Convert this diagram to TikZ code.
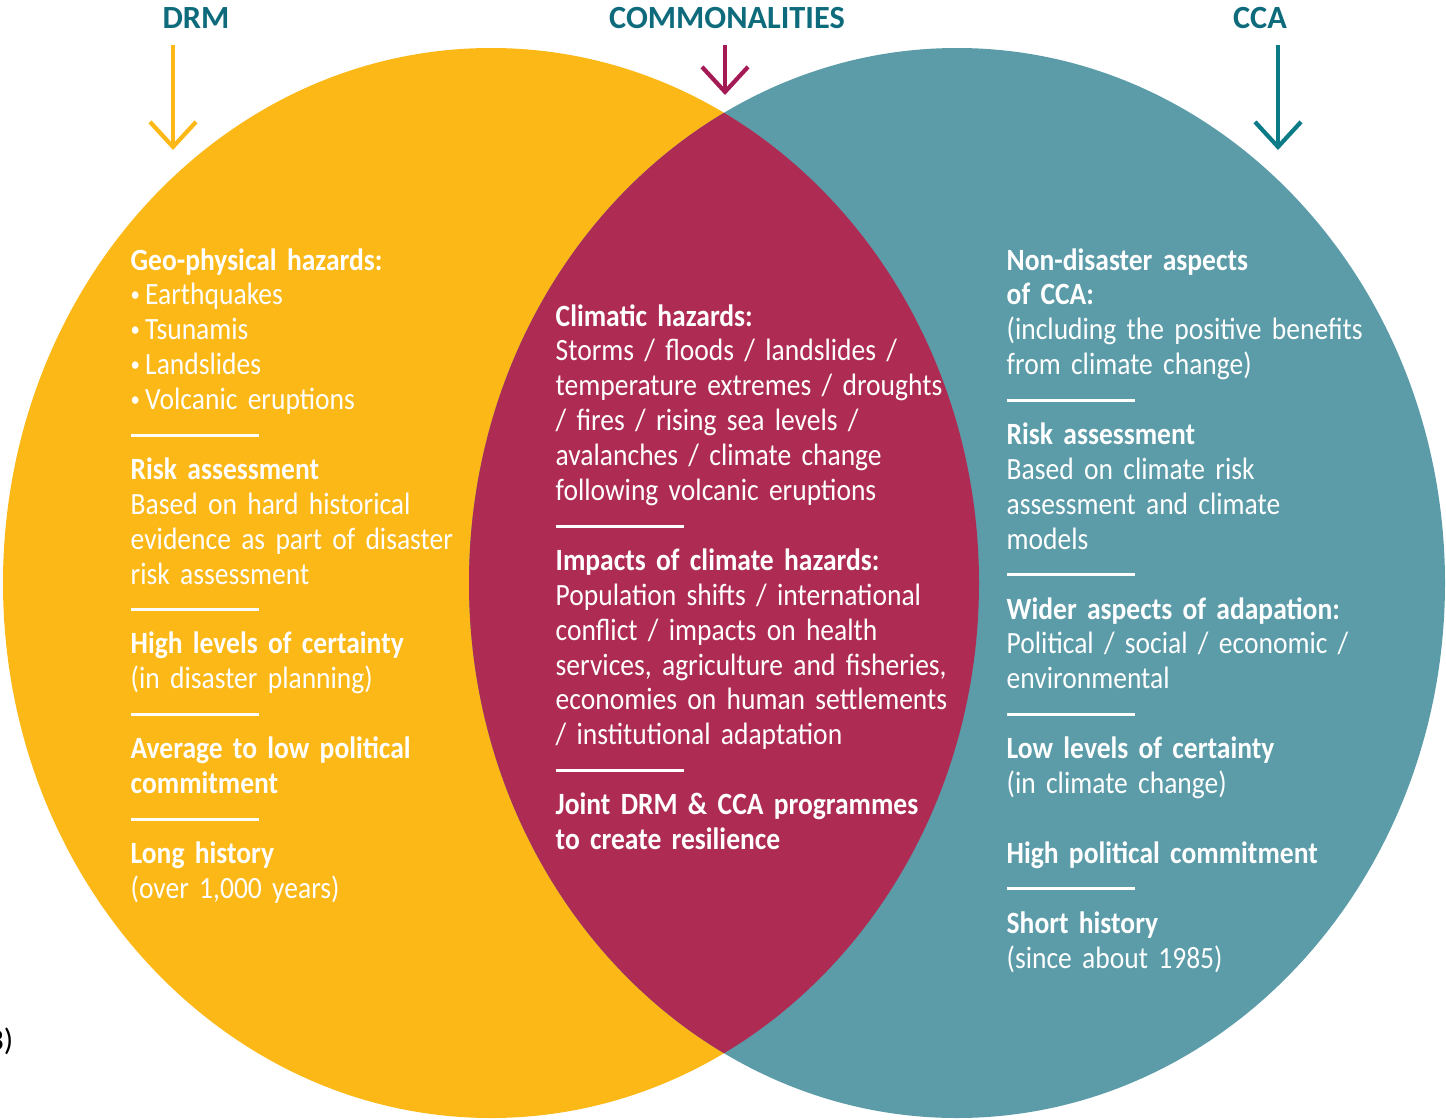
\documentclass[tikz,border=0pt]{standalone}
\usepackage{fontspec}
\setmainfont{Carlito}
\newfontfamily\bodyfont{Carlito}[FakeStretch=0.89, WordSpace=0.75]
\usepackage{xcolor}
\usepackage{tikz}
\usetikzlibrary{arrows.meta}
\definecolor{drmyellow}{HTML}{FBB817}
\definecolor{ccateal}{HTML}{5B9CA8}
\definecolor{commonred}{HTML}{AE2C53}
\definecolor{titleteal}{HTML}{0E6B7C}
\definecolor{arrowteal}{HTML}{0B7C87}
\definecolor{arrowred}{HTML}{A31A55}
\tikzset{heading/.style={font=\fontsize{9.2pt}{10pt}\selectfont\bfseries, text=titleteal, inner sep=0pt, anchor=base}}
\tikzset{column/.style={font=\bodyfont\fontsize{8.8pt}{9.93pt}\selectfont, text=white, align=left, text width=#1, inner sep=0pt, anchor=base west}}
\tikzset{pointer/.style={line width=1.2pt, -{Straight Barb[length=0.25cm, width=0.46cm, line width=1.2pt]}}}
\newcommand{\sepline}{\rule[2.2pt]{36.4pt}{0.85pt}}
\newcommand{\hazbullet}{\raisebox{0.9pt}{\fontsize{6pt}{6pt}\selectfont•}\,}

\begin{document}
\begin{tikzpicture}
\useasboundingbox (0,0) rectangle (14.46,-11.20);
{
% the two sets and their overlap
\fill[drmyellow] (4.91,-5.83) ellipse [x radius=4.88, y radius=5.35];
\fill[ccateal] (9.57,-5.83) ellipse [x radius=4.88, y radius=5.35];
\begin{scope}
\clip (4.91,-5.83) ellipse [x radius=4.88, y radius=5.35];
\fill[commonred] (9.57,-5.83) ellipse [x radius=4.88, y radius=5.35];
\end{scope}
}
{
% headings and arrows
\node[heading] (drm) at (1.96,-0.29) {DRM};
\node[heading] (common) at (7.27,-0.29) {COMMONALITIES};
\node[heading] (cca) at (12.60,-0.29) {CCA};
\coordinate (drmstart) at (1.73,-0.45);
\coordinate (drmtip) at (1.73,-1.50);
\coordinate (commonstart) at (7.25,-0.45);
\coordinate (commontip) at (7.25,-0.95);
\coordinate (ccastart) at (12.78,-0.45);
\coordinate (ccatip) at (12.78,-1.50);
\draw[pointer, drmyellow] (drmstart) -- (drmtip);
\draw[pointer, arrowred] (commonstart) -- (commontip);
\draw[pointer, arrowteal] (ccastart) -- (ccatip);
}
{
% DRM side
\node[column=5cm] (drmtext) at (1.30,-2.70) {%
\textbf{Geo-physical hazards:}\\
\hazbullet Earthquakes\\
\hazbullet Tsunamis\\
\hazbullet Landslides\\
\hazbullet Volcanic eruptions\\
\sepline\\
\textbf{Risk assessment}\\
Based on hard historical\\
evidence as part of disaster\\
risk assessment\\
\sepline\\
\textbf{High levels of certainty}\\
(in disaster planning)\\
\sepline\\
\textbf{Average to low political}\\
\textbf{commitment}\\
\sepline\\
\textbf{Long history}\\
(over 1,000 years)};
% commonalities
\node[column=5cm] (commontext) at (5.55,-3.26) {%
\textbf{Climatic hazards:}\\
Storms / floods / landslides /\\
temperature extremes / droughts\\
/ fires / rising sea levels /\\
avalanches / climate change\\
following volcanic eruptions\\
\sepline\\
\textbf{Impacts of climate hazards:}\\
Population shifts / international\\
conflict / impacts on health\\
services, agriculture and fisheries,\\
economies on human settlements\\
/ institutional adaptation\\
\sepline\\
\textbf{Joint DRM \& CCA programmes}\\
\textbf{to create resilience}};
% CCA side
\node[column=5cm] (ccatext) at (10.06,-2.70) {%
\textbf{Non-disaster aspects}\\
\textbf{of CCA:}\\
(including the positive benefits\\
from climate change)\\
\sepline\\
\textbf{Risk assessment}\\
Based on climate risk\\
assessment and climate\\
models\\
\sepline\\
\textbf{Wider aspects of adapation:}\\
Political / social / economic /\\
environmental\\
\sepline\\
\textbf{Low levels of certainty}\\
(in climate change)\\
~\\
\textbf{High political commitment}\\
\sepline\\
\textbf{Short history}\\
(since about 1985)};
}
\node[anchor=base east, inner sep=0pt, font=\fontsize{8.8pt}{9.93pt}\selectfont] (cut) at (0.14,-10.50) {3)};
\end{tikzpicture}
\end{document}
